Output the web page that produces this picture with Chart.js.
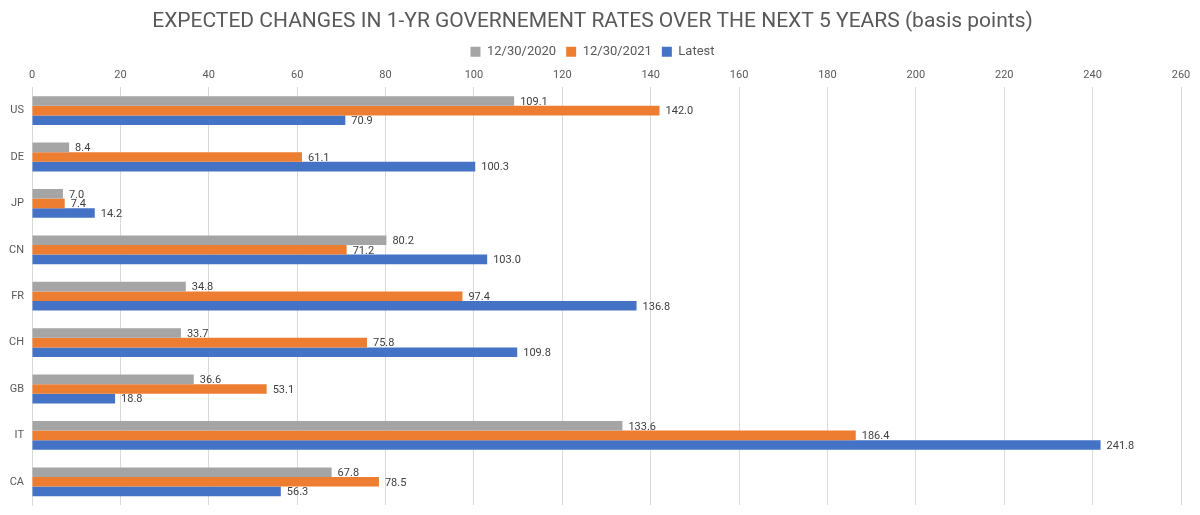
<!DOCTYPE html>
<html><head><meta charset="utf-8">
<script src="https://cdn.jsdelivr.net/npm/chart.js@4/dist/chart.umd.min.js"></script>
<style>html,body{margin:0;padding:0;background:#fff}#wrap{width:1200px;height:515px}</style>
</head><body><div id="wrap"><canvas id="c" width="1200" height="515"></canvas></div>
<script>
const categories = ["US","DE","JP","CN","FR","CH","GB","IT","CA"];
const s2020 = [109.1, 8.4, 7.0, 80.2, 34.8, 33.7, 36.6, 133.6, 67.8];
const s2021 = [142.0, 61.1, 7.4, 71.2, 97.4, 75.8, 53.1, 186.4, 78.5];
const sLatest = [70.9, 100.3, 14.2, 103.0, 136.8, 109.8, 18.8, 241.8, 56.3];
const seriesNames = ["12/30/2020","12/30/2021","Latest"];
const FONT = "Roboto, 'DejaVu Sans', sans-serif";

const labelPlugin = {
  id:'vlabels',
  afterInit(chart){
    const lg = chart.legend;
    if (lg && !lg._patched){
      const orig = lg.fit;
      lg.fit = function(){ orig.call(this); this.height -= 6; };
      lg._patched = true;
    }
  },
  afterDatasetsDraw(chart){
    const ctx = chart.ctx;
    ctx.save();
    ctx.font = "11px " + FONT;
    ctx.fillStyle = "#404040";
    ctx.textBaseline = "middle";
    ctx.textAlign = "left";
    chart.data.datasets.forEach((ds,i)=>{
      chart.getDatasetMeta(i).data.forEach((bar,j)=>{
        ctx.fillText(ds.data[j].toFixed(1), bar.x + 6, bar.y + 1);
      });
    });
    ctx.restore();
  }
};

new Chart(document.getElementById('c'), {
  type:'bar',
  data:{
    labels: categories,
    datasets:[
      {label:seriesNames[0], data:s2020, backgroundColor:'#A5A5A5'},
      {label:seriesNames[1], data:s2021, backgroundColor:'#ED7D31'},
      {label:seriesNames[2], data:sLatest, backgroundColor:'#4472C4'}
    ]
  },
  options:{
    indexAxis:'y',
    responsive:false,
    animation:false,
    devicePixelRatio:1,
    datasets:{bar:{barPercentage:1.0, categoryPercentage:0.62}},
    layout:{padding:{left:4,right:19,top:6,bottom:10}},
    plugins:{
      title:{display:true, text:'EXPECTED CHANGES IN 1-YR GOVERNEMENT RATES OVER THE NEXT 5 YEARS (basis points)',
        color:'#595959', font:{family:FONT, size:21, weight:'normal'}, padding:{top:3,bottom:1}},
      legend:{display:true, position:'top',
        labels:{color:'#595959', font:{family:FONT, size:13}, boxWidth:10, boxHeight:10, padding:10}},
      tooltip:{enabled:false}
    },
    scales:{
      x:{position:'top', min:0, max:260,
        ticks:{stepSize:20, color:'#595959', font:{family:FONT, size:11}, padding:6},
        grid:{color:'#D9D9D9', drawTicks:false, lineWidth:1},
        border:{display:false}
      },
      y:{
        ticks:{color:'#595959', font:{family:FONT, size:11}, padding:0},
        grid:{display:false},
        border:{display:true, color:'#D9D9D9'},
        afterFit(s){ s.width = 28; }
      }
    }
  },
  plugins:[labelPlugin]
});
</script></body></html>
